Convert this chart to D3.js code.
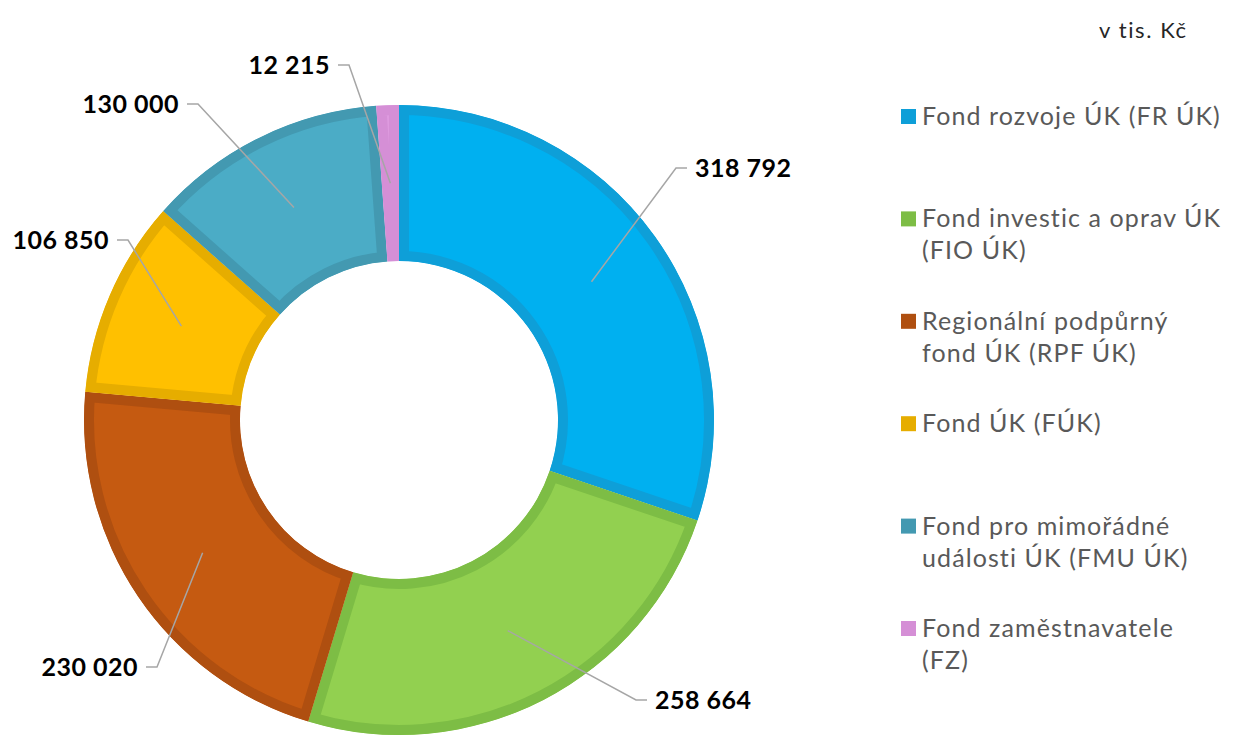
<!DOCTYPE html>
<html>
<head>
<meta charset="utf-8">
<script src="https://cdn.jsdelivr.net/npm/d3@7"></script>
<style>
  body { margin: 0; background: #fff; }
  svg { display: block; }
  .val { font-family: Lato, "DejaVu Sans", sans-serif; font-weight: 700; font-size: 25px; letter-spacing: 0.5px; fill: #000; }
  .leg { font-family: Lato, "DejaVu Sans", sans-serif; font-size: 25px; letter-spacing: 1.1px; fill: #595959; }
  .unit { font-family: Lato, "DejaVu Sans", sans-serif; font-size: 22px; letter-spacing: 1.6px; fill: #262626; }
</style>
</head>
<body>
<svg id="chart" width="1242" height="735"></svg>
<script>
// hodnoty v tis. Kč
const categories = [
  ["Fond rozvoje ÚK (FR ÚK)"],
  ["Fond investic a oprav ÚK", "(FIO ÚK)"],
  ["Regionální podpůrný", "fond ÚK (RPF ÚK)"],
  ["Fond ÚK (FÚK)"],
  ["Fond pro mimořádné", "události ÚK (FMU ÚK)"],
  ["Fond zaměstnavatele", "(FZ)"]
];
const values = [318792, 258664, 230020, 106850, 130000, 12215];
const fills = ["#00B0F0", "#92D050", "#C55A11", "#FFC000", "#4BACC6", "#DE9ADF"];
const borders = ["#0E9FD8", "#7DBD45", "#AF4F10", "#E6AD00", "#4399B1", "#D58FD6"];

// where the value labels sit (elbow of the leader line)
const labelPos = [
  {x: 676, y: 168, side: "right"},
  {x: 636, y: 700, side: "right"},
  {x: 157, y: 667, side: "left"},
  {x: 128, y: 240, side: "left"},
  {x: 198, y: 104, side: "left"},
  {x: 349, y: 65, side: "left"}
];

const fmt = v => d3.format(",")(v).replace(/,/g, " ");

function draw() {
  let svg = d3.select("#chart");
  let cx = 399, cy = 420, rOut = 315, rIn = 159;

  let pie = d3.pie().sort(null).value(d => d)(values);
  let arc = d3.arc().innerRadius(rIn).outerRadius(rOut);

  let defs = svg.append("defs");
  defs.selectAll("clipPath")
    .data(pie)
    .enter().append("clipPath")
    .attr("id", (d, i) => "clip" + i)
    .append("path")
    .attr("d", arc);

  let g = svg.append("g").attr("transform", "translate(" + cx + "," + cy + ")");

  g.selectAll("path.slice")
    .data(pie)
    .enter().append("path")
    .attr("class", "slice")
    .attr("d", arc)
    .attr("fill", (d, i) => fills[i])
    .attr("stroke", (d, i) => borders[i])
    .attr("stroke-width", 20)
    .attr("stroke-linejoin", "miter")
    .attr("clip-path", (d, i) => "url(#clip" + i + ")");

  // leader lines + value labels
  let lines = svg.append("g");
  pie.forEach((d, i) => {
    let c = arc.centroid(d);
    let p = labelPos[i];
    let dx = p.side === "right" ? 11 : -11;
    lines.append("polyline")
      .attr("points", [[cx + c[0], cy + c[1]], [p.x, p.y], [p.x + dx, p.y]].map(q => q.join(",")).join(" "))
      .attr("fill", "none")
      .attr("stroke", "#A6A6A6")
      .attr("stroke-width", 1.5);
    svg.append("text")
      .attr("class", "val")
      .attr("x", p.x + (p.side === "right" ? 19 : -19))
      .attr("y", p.y + 9)
      .attr("text-anchor", p.side === "right" ? "start" : "end")
      .text(fmt(values[i]));
  });

  // legend
  let leg = svg.append("g");
  categories.forEach((lns, i) => {
    let y0 = 125 + i * 102.4;
    leg.append("rect")
      .attr("x", 901).attr("y", y0 - 16)
      .attr("width", 15).attr("height", 15)
      .attr("fill", borders[i]);
    let t = leg.append("text").attr("class", "leg").attr("x", 922).attr("y", y0);
    lns.forEach((s, k) => {
      t.append("tspan").attr("x", 922).attr("dy", k === 0 ? 0 : 32).text(s);
    });
  });

  svg.append("text")
    .attr("class", "unit")
    .attr("x", 1099).attr("y", 38)
    .text("v tis. Kč");
}

document.addEventListener("DOMContentLoaded", draw);
</script>
</body>
</html>
